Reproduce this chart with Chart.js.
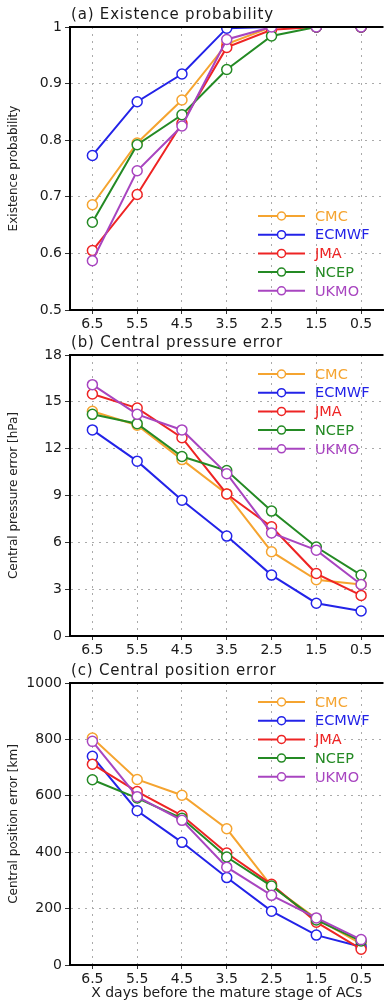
<!DOCTYPE html>
<html>
<head>
<meta charset="utf-8">
<script src="https://cdn.jsdelivr.net/npm/chart.js@4"></script>
<style>
  html, body { margin: 0; padding: 0; background: #fff; overflow: hidden; }
  .panel { position: absolute; left: 0; }
</style>
</head>
<body>
<div class="panel" style="top:0"><canvas id="probChart" width="390" height="330"></canvas></div>
<div class="panel" style="top:330px"><canvas id="presChart" width="390" height="330"></canvas></div>
<div class="panel" style="top:660px"><canvas id="posChart" width="390" height="344"></canvas></div>
<script>
// Lead times (days before mature stage)
const days = ["6.5", "5.5", "4.5", "3.5", "2.5", "1.5", "0.5"];
const models = ["CMC", "ECMWF", "JMA", "NCEP", "UKMO"];

// (a) Existence probability
const probCMC   = [0.686, 0.795, 0.871, 0.970, 1.000, 1.000, 1.000];
const probECMWF = [0.773, 0.868, 0.917, 0.998, 1.000, 1.000, 1.000];
const probJMA   = [0.605, 0.704, 0.830, 0.964, 0.995, 1.000, 1.000];
const probNCEP  = [0.655, 0.792, 0.845, 0.925, 0.984, 1.000, 1.000];
const probUKMO  = [0.587, 0.746, 0.825, 0.978, 1.000, 1.000, 1.000];

// (b) Central pressure error [hPa]
const presCMC   = [14.4, 13.5, 11.3, 9.1, 5.4, 3.6, 3.3];
const presECMWF = [13.2, 11.2, 8.7, 6.4, 3.9, 2.1, 1.6];
const presJMA   = [15.5, 14.6, 12.7, 9.1, 7.0, 4.0, 2.6];
const presNCEP  = [14.2, 13.6, 11.5, 10.6, 8.0, 5.7, 3.9];
const presUKMO  = [16.1, 14.2, 13.2, 10.4, 6.6, 5.5, 3.3];

// (c) Central position error [km]
const posCMC   = [805, 658, 602, 483, 280, 165, 75];
const posECMWF = [740, 547, 435, 310, 191, 106, 65];
const posJMA   = [712, 615, 530, 397, 286, 152, 56];
const posNCEP  = [657, 592, 520, 383, 280, 160, 85];
const posUKMO  = [793, 597, 513, 347, 247, 167, 90];

const modelColors = ["#f5a430", "#2323e8", "#ee2424", "#248a24", "#a845c0"];
const FONT = '"DejaVu Sans", "Liberation Sans", sans-serif';

// title, top frame line and the legend inside the plot
const panelDecor = {
  id: "panelDecor",
  afterDraw(chart, args, opts) {
    const { ctx, chartArea } = chart;
    ctx.save();
    ctx.strokeStyle = "#000";
    ctx.lineWidth = 2;
    ctx.beginPath();
    ctx.moveTo(chartArea.left - 1, chartArea.top);
    ctx.lineTo(chartArea.right, chartArea.top);
    ctx.stroke();

    ctx.fillStyle = "#1a1a1a";
    ctx.font = "15px " + FONT;
    ctx.letterSpacing = "0.8px";
    ctx.textAlign = "left";
    ctx.textBaseline = "middle";
    ctx.fillText(opts.title, chartArea.left + 1, chartArea.top - 12);
    ctx.letterSpacing = "0px";

    chart.data.datasets.forEach((ds, i) => {
      const y = chartArea.top + opts.legendTop + i * 18.7;
      const x0 = chartArea.left + 188;
      const x1 = x0 + 47;
      ctx.strokeStyle = ds.borderColor;
      ctx.lineWidth = 2;
      ctx.beginPath();
      ctx.moveTo(x0, y);
      ctx.lineTo(x1, y);
      ctx.stroke();
      ctx.beginPath();
      ctx.arc((x0 + x1) / 2, y, 4, 0, Math.PI * 2);
      ctx.fillStyle = "#fff";
      ctx.fill();
      ctx.lineWidth = 1.5;
      ctx.stroke();
      ctx.fillStyle = ds.borderColor;
      ctx.font = "14.5px " + FONT;
      ctx.fillText(ds.label, x1 + 10, y + 1);
    });
    ctx.restore();
  },
};

function createPanel(id, seriesList, opts) {
  const datasets = seriesList.map((values, i) => ({
    label: models[i],
    data: values,
    borderColor: modelColors[i],
    backgroundColor: "#fff",
    borderWidth: 2,
    pointRadius: 5,
    pointBorderWidth: 1.5,
    pointBackgroundColor: "#fff",
    tension: 0,
    clip: 0,
    order: models.length - i,
  }));

  new Chart(document.getElementById(id), {
    type: "line",
    data: { labels: days, datasets: datasets },
    options: {
      responsive: false,
      animation: false,
      layout: { padding: { top: opts.top, left: 0, right: 0, bottom: 0 } },
      plugins: {
        legend: { display: false },
        tooltip: { enabled: false },
        panelDecor: { title: opts.title, legendTop: opts.legendTop },
      },
      scales: {
        x: {
          type: "category",
          offset: true,
          afterFit: (scale) => { scale.height = opts.xHeight; },
          grid: {
            offset: false,
            color: "#aaa",
            lineWidth: 1,
            drawTicks: true,
            tickLength: 4,
            tickColor: "#333",
            tickBorderDash: [],
          },
          border: { color: "#000", width: 2, dash: [2, 5] },
          ticks: {
            color: "#1a1a1a",
            font: { family: FONT, size: 14 },
            padding: 2,
            maxRotation: 0,
            autoSkip: false,
          },
          title: {
            display: !!opts.xTitle,
            text: opts.xTitle || "",
            color: "#1a1a1a",
            font: { family: FONT, size: 14 },
            padding: { top: 0, bottom: 2 },
          },
        },
        y: {
          min: opts.min,
          max: opts.max,
          afterFit: (scale) => { scale.width = 70; },
          grid: {
            color: "#aaa",
            lineWidth: 1,
            drawTicks: true,
            tickLength: 5,
            tickColor: "#333",
            tickBorderDash: [],
          },
          border: { color: "#000", width: 2, dash: [2, 5] },
          ticks: {
            stepSize: opts.step,
            color: "#1a1a1a",
            font: { family: FONT, size: 14 },
            padding: 3,
            callback: (v) => String(Math.round(v * 1000) / 1000),
          },
          title: {
            display: true,
            text: opts.yTitle,
            color: "#222",
            font: { family: FONT, size: 12 },
            padding: { top: 7, bottom: 0 },
          },
        },
      },
    },
    plugins: [panelDecor],
  });
}

createPanel("probChart", [probCMC, probECMWF, probJMA, probNCEP, probUKMO], {
  title: "(a) Existence probability",
  yTitle: "Existence probability",
  min: 0.5, max: 1, step: 0.1,
  top: 27, xHeight: 20, legendTop: 189,
});

createPanel("presChart", [presCMC, presECMWF, presJMA, presNCEP, presUKMO], {
  title: "(b) Central pressure error",
  yTitle: "Central pressure error [hPa]",
  min: 0, max: 18, step: 3,
  top: 25, xHeight: 24, legendTop: 19,
});

createPanel("posChart", [posCMC, posECMWF, posJMA, posNCEP, posUKMO], {
  title: "(c) Central position error",
  yTitle: "Central position error [km]",
  xTitle: "X days before the mature stage of ACs",
  min: 0, max: 1000, step: 200,
  top: 23, xHeight: 39, legendTop: 19,
});
</script>
</body>
</html>
